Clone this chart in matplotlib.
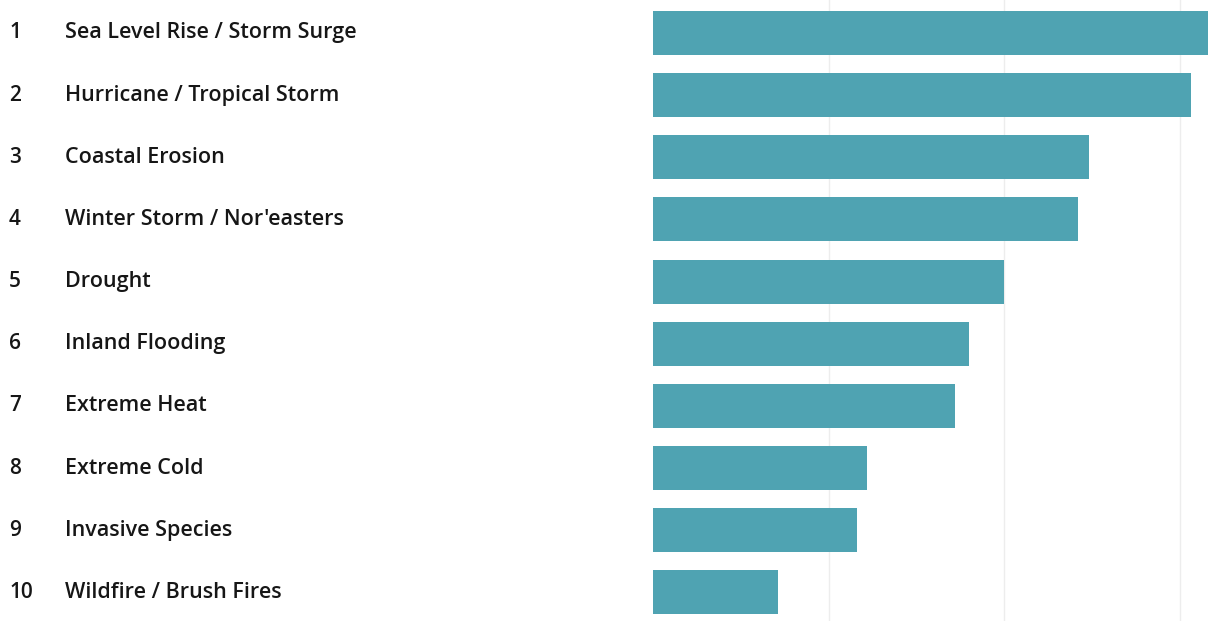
import matplotlib
matplotlib.use("Agg")
import matplotlib.pyplot as plt
from matplotlib.transforms import blended_transform_factory

# ─── data ───
ranks = [1, 2, 3, 4, 5, 6, 7, 8, 9, 10]
hazards = [
    "Sea Level Rise / Storm Surge",
    "Hurricane / Tropical Storm",
    "Coastal Erosion",
    "Winter Storm / Nor'easters",
    "Drought",
    "Inland Flooding",
    "Extreme Heat",
    "Extreme Cold",
    "Invasive Species",
    "Wildfire / Brush Fires",
]
scores = [3.20, 3.06, 2.48, 2.42, 2.00, 1.80, 1.72, 1.22, 1.16, 0.71]
gridlines = [1, 2, 3]

BAR = "#4fa3b2"
INK = "#161616"
FONT = ["Open Sans", "DejaVu Sans"]

fig = plt.figure(figsize=(12.08, 6.21), dpi=100)
fig.patch.set_facecolor("white")
ax = fig.add_axes([653 / 1208, 0, 555 / 1208, 1])

ypos = list(range(len(hazards)))
ax.barh(ypos, scores, height=0.71, color=BAR, zorder=2)

for g in gridlines:
    ax.axvline(g, color="#ededed", lw=1.0, zorder=1)

ax.set_xlim(0, 555 / 175.7)
ax.set_ylim(9.46, -0.53)
ax.axis("off")

# rank + hazard name on the left
tr = blended_transform_factory(fig.transFigure, ax.transData)
for y, r, name in zip(ypos, ranks, hazards):
    ax.text(9 / 1208, y, str(r), transform=tr, ha="left", va="center",
            fontsize=15, color=INK, family=FONT,
            weight="semibold", clip_on=False)
    ax.text(65 / 1208, y, name, transform=tr, ha="left", va="center",
            fontsize=15.5, color=INK, family=FONT,
            weight="semibold", clip_on=False)

fig.savefig("out.png", dpi=100, facecolor="white")
plt.close(fig)
